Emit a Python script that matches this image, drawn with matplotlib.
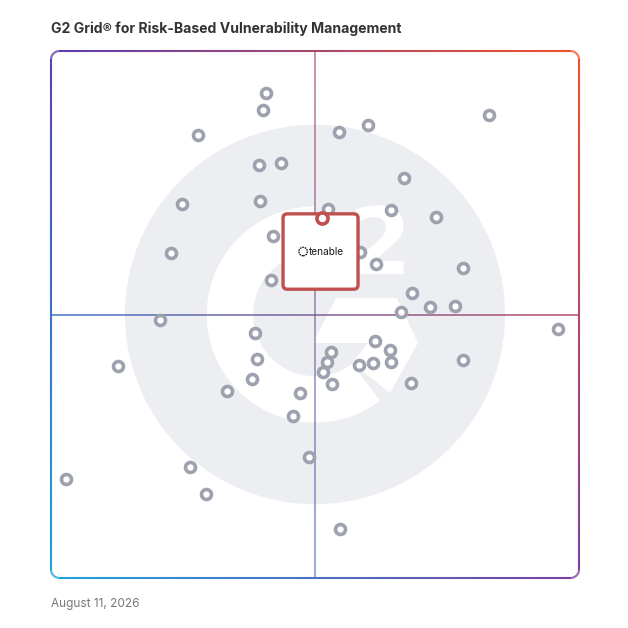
import numpy as np
import matplotlib
matplotlib.use("Agg")
import matplotlib.pyplot as plt
from matplotlib.collections import LineCollection
from matplotlib.patches import Circle, Wedge, Polygon, FancyBboxPatch
from matplotlib.colors import to_rgb

plt.rcParams['font.family'] = ['Inter', 'DejaVu Sans']

title = "G2 Grid® for Risk-Based Vulnerability Management"
date_label = "August 11, 2026"

# x = satisfaction, y = market presence (0-100 grid scale)
vendor_x = [40.7, 40.2, 27.8, 54.5, 60.0, 83.0, 39.4, 43.6, 66.9, 24.8,
            39.6, 52.5, 64.4, 72.9, 42.0, 22.7, 58.5, 61.6, 78.0, 41.7,
            68.4, 66.3, 71.8, 76.5, 20.6, 96.0, 38.6, 61.4, 53.0, 64.2,
            39.0, 52.3, 58.3, 61.0, 64.4, 78.0, 12.7, 51.5, 38.1, 53.2,
            68.2, 33.3, 47.2, 45.8, 48.9, 26.3, 2.8, 29.4, 54.7]
vendor_y = [92.0, 88.8, 84.1, 84.6, 86.0, 87.9, 78.4, 78.7, 75.9, 71.0,
            71.5, 70.0, 69.8, 68.5, 64.9, 61.7, 61.9, 59.6, 58.8, 56.5,
            54.1, 50.5, 51.4, 51.6, 49.0, 47.2, 46.5, 45.0, 42.9, 43.3,
            41.6, 41.0, 40.4, 40.8, 41.0, 41.4, 40.2, 39.1, 37.8, 36.8,
            37.0, 35.5, 35.1, 30.7, 23.0, 21.1, 18.8, 15.9, 9.3]

featured_name = "tenable"
featured_x, featured_y = 51.3, 68.4

corner_tl, corner_tr = "#5a3fb0", "#f2522a"
corner_bl, corner_br = "#1ea3de", "#7b3fa2"


def grad_color(x, y):
    u, v = np.clip(x / 100, 0, 1), np.clip(y / 100, 0, 1)
    tl, tr, bl, br = [np.array(to_rgb(c)) for c in (corner_tl, corner_tr, corner_bl, corner_br)]
    top = tl * (1 - u) + tr * u
    bot = bl * (1 - u) + br * u
    return bot * (1 - v) + top * v


def rounded_rect(x0, y0, x1, y1, r):
    pts = []
    corners = [((x1 - r, y1 - r), 0, 90), ((x0 + r, y1 - r), 90, 180),
               ((x0 + r, y0 + r), 180, 270), ((x1 - r, y0 + r), 270, 360)]
    for (cx, cy), a0, a1 in corners:
        t = np.radians(np.linspace(a0, a1, 12))
        pts += list(zip(cx + r * np.cos(t), cy + r * np.sin(t)))
    pts.append(pts[0])
    pts = np.array(pts)
    # densify so the colour can change along each edge
    out = []
    for a, b in zip(pts[:-1], pts[1:]):
        k = max(2, int(np.hypot(*(b - a)) * 2))
        for s in np.linspace(0, 1, k, endpoint=False):
            out.append(a + (b - a) * s)
    out.append(pts[-1])
    return np.array(out)


def gradient_line(ax, pts, lw, alpha=1.0, zorder=2):
    segs = np.stack([pts[:-1], pts[1:]], axis=1)
    mids = (pts[:-1] + pts[1:]) / 2
    cols = [(*grad_color(mx, my), alpha) for mx, my in mids]
    lc = LineCollection(segs, colors=cols, linewidths=lw, zorder=zorder,
                        capstyle='butt', clip_on=False)
    ax.add_collection(lc)


fig = plt.figure(figsize=(6.28, 6.28), dpi=100)
ax = fig.add_axes([51 / 628, 50 / 628, 528 / 628, 527 / 628])
ax.set_xlim(0, 100)
ax.set_ylim(0, 100)
ax.axis('off')

# G2 watermark
ax.add_patch(Circle((50, 50), 36, fc='#eceef1', ec='none', zorder=0))
ax.add_patch(Wedge((50, 50), 20.5, 90, 307, width=8.8, fc='white', ec='none', zorder=1))
ax.add_patch(Polygon([(54.0, 53.1), (65.5, 53.1), (69.5, 44.6), (64.2, 35.1),
                      (57.0, 40.8), (60.0, 44.6), (49.6, 44.6)],
                     closed=True, fc='white', ec='none', zorder=1))
ax.text(56.2, 62.6, "2", fontsize=66, fontweight='bold', color='white',
        ha='left', va='center', zorder=1, family=['DejaVu Sans'])

# quadrant lines
ys = np.linspace(0, 100, 200)
gradient_line(ax, np.column_stack([np.full_like(ys, 50), ys]), 1.1, alpha=0.75)
gradient_line(ax, np.column_stack([ys, np.full_like(ys, 50)]), 1.2, alpha=0.9)

# outer frame
gradient_line(ax, rounded_rect(0, 0, 100, 100, 1.6), 1.5, zorder=2)

# vendors
ax.plot(vendor_x, vendor_y, 'o', ms=7.2, mfc='white', mec='#9ea2af', mew=2.6,
        zorder=3, linestyle='none')

# featured card
cx = featured_x - 0.25
box_w, box_h = 14.2, 14.3
top = featured_y + 0.7
ax.add_patch(FancyBboxPatch((cx - box_w / 2, top - box_h), box_w, box_h,
                            boxstyle="round,pad=0,rounding_size=0.8",
                            fc='white', ec='#c0504f', lw=2.4, zorder=4))
cy = top - box_h / 2
ax.add_patch(Circle((cx - 3.3, cy), 0.8, fc='none', ec='#222222', lw=1.0,
                    linestyle=(0, (1.2, 0.6)), zorder=5))
ax.text(cx - 2.2, cy, featured_name, fontsize=7.3, color='#1a1a1a',
        ha='left', va='center', zorder=5)
ax.plot([featured_x], [featured_y], 'o', ms=8.0, mfc='white', mec='#c0504f',
        mew=2.6, zorder=6)

fig.text(51 / 628, 1 - 29 / 628, title, fontsize=10.1, fontweight='bold',
         color='#333333', ha='left', va='center')
fig.text(51 / 628, 1 - 604 / 628, date_label, fontsize=8.5, color='#777777',
         ha='left', va='center')

fig.savefig('out.png', dpi=100, facecolor='white')
